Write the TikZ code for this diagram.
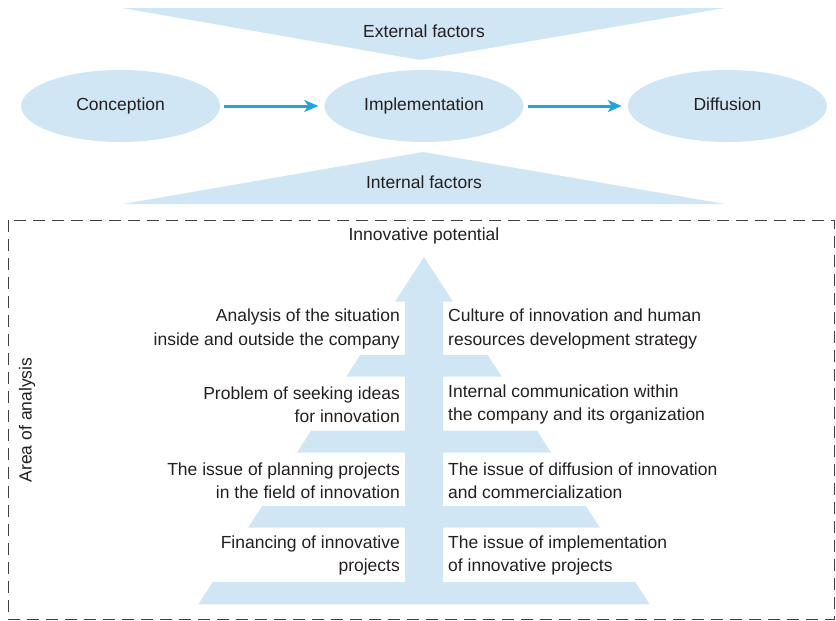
\documentclass[tikz,border=0pt]{standalone}
\usepackage{fontspec}
\setmainfont{Liberation Sans}
\usetikzlibrary{shapes.geometric, arrows.meta, positioning}

\definecolor{paleblue}{RGB}{209,230,244}
\definecolor{flowblue}{RGB}{30,165,218}
\definecolor{inkgray}{RGB}{35,31,32}

\begin{document}
\begin{tikzpicture}[x=1pt, y=-1pt, node distance=104pt,
    every node/.style={font=\fontsize{17.5}{23.3}\selectfont, text=inkgray}]
    % Styles
    \tikzstyle{phase} = [ellipse, fill=paleblue, minimum width=199pt, minimum height=72pt, inner sep=0pt,
                         text height=12.7pt, text depth=3.7pt]
    \tikzstyle{flow} = [-{Stealth[length=14pt, width=12pt, inset=4pt]}, line width=3pt, color=flowblue,
                        shorten <=4pt, shorten >=6pt]
    \tikzstyle{band} = [fill=paleblue]
    \tikzstyle{area} = [draw=black!75, line width=1pt, dash pattern=on 12pt off 7pt]
    \tikzstyle{lefttext} = [align=right, inner sep=0pt]
    \tikzstyle{righttext} = [align=left, inner sep=0pt]

    \useasboundingbox (0,0) rectangle (836,621);

    % Factors
    \fill[band] (122,8) -- (725,8) -- (420,60) -- cycle;
    \node (external) at (424,31) {External factors};
    \fill[band] (123,204) -- (725,204) -- (423,152) -- cycle;
    \node (internal) at (424,182) {Internal factors};

    % Phases
    \node[phase] (impl) at (424,106) {Implementation};
    \node[phase, left=of impl] (conc) {Conception};
    \node[phase, right=of impl] (diff) {Diffusion};
    \draw[flow] (conc) -- (impl);
    \draw[flow] (impl) -- (diff);

    % Area of analysis
    \draw[area] (8,220) rectangle (834,619);
    \node[rotate=90] (area) at (27,420) {Area of analysis};

    % Pyramid arrow
    \fill[band] (405.3,300) rectangle (443.3,604.3);
    \fill[band] (424,257) -- ({424+0.65*44.7},301.7) -- ({424-0.65*44.7},301.7) -- cycle;
    \foreach \ya/\yb in {355/376.7, 430.7/452.7, 506/527.7, 582/604.3}
        \fill[band] ({424-0.65*(\ya-257)},\ya) -- ({424+0.65*(\ya-257)},\ya)
            -- ({424+0.65*(\yb-257)},\yb) -- ({424-0.65*(\yb-257)},\yb) -- cycle;
    \node (potential) at (424,236) {Innovative potential};

    % Levels
    \coordinate (l1) at (424,329);
    \coordinate (l2) at (424,404.5);
    \coordinate (l3) at (424,480.5);
    \coordinate (l4) at (424,555.5);

    \node[lefttext, left=24pt of l1] (situation) {Analysis of the situation\\inside and outside the company};
    \node[righttext, right=24pt of l1] (culture) {Culture of innovation and human\\resources development strategy};
    \node[lefttext, left=24pt of l2] (ideas) {Problem of seeking ideas\\for innovation};
    \node[righttext, right=24pt of l2] (communication) {Internal communication within\\the company and its organization};
    \node[lefttext, left=24pt of l3] (planning) {The issue of planning projects\\in the field of innovation};
    \node[righttext, right=24pt of l3] (commerce) {The issue of diffusion of innovation\\and commercialization};
    \node[lefttext, left=24pt of l4] (financing) {Financing of innovative\\projects};
    \node[righttext, right=24pt of l4] (implproj) {The issue of implementation\\of innovative projects};
\end{tikzpicture}
\end{document}
